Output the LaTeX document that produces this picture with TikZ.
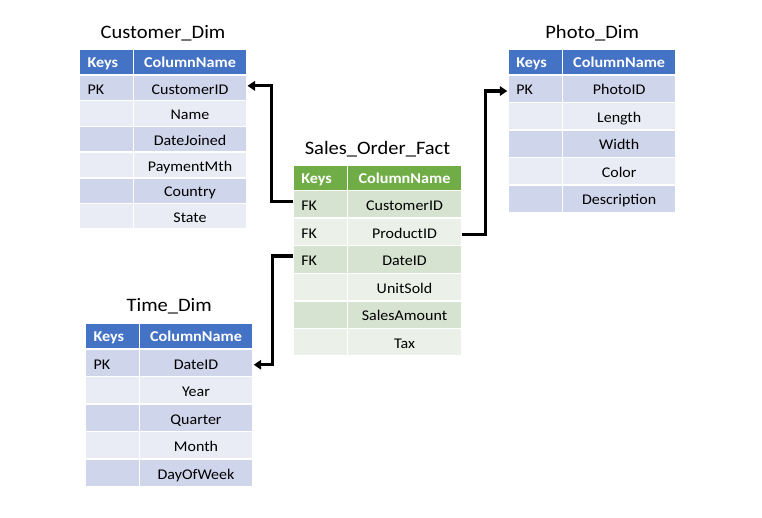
\documentclass[tikz,border=0pt]{standalone}
\usepackage{fontspec}
\setmainfont{Carlito}[FakeStretch=1.08]
\usetikzlibrary{arrows.meta}
\definecolor{blueH}{HTML}{4472C4}
\definecolor{blue1}{HTML}{CFD5EA}
\definecolor{blue0}{HTML}{E9EBF5}
\definecolor{greenH}{HTML}{70AD47}
\definecolor{green1}{HTML}{D6E3D0}
\definecolor{green0}{HTML}{EBF1E9}
\tikzset{
  cell/.style={draw=white, line width=1.5pt, inner sep=0pt, outer sep=0pt,
    anchor=north west, font=\fontsize{14.8}{16}\selectfont, text=black,
    text height=12.5pt, text depth=0pt},
  keycell/.style={cell, text width=38pt, align=left, inner xsep=8pt},
  headcell/.style={cell, text=white, font=\fontsize{15}{16}\selectfont\bfseries, text height=11.5pt},
  ttl/.style={anchor=base, inner sep=0pt, font=\fontsize{19}{21}\selectfont},
  conn/.style={draw=black, line width=3.3pt, -{Triangle[length=7.5pt,width=9.5pt]}, shorten >=1pt}
}
% #1 prefix, #2 x, #3 y, #4 w1, #5 w2, #6 header h, #7 row h, #8 scheme, #9 rows
\newcommand{\mktable}[9]{%
  \node[keycell, headcell, minimum width=#4pt, minimum height=#6pt, fill=#8H] (#1-h-k) at (#2,#3) {Keys};
  \node[headcell, minimum width=#5pt, minimum height=#6pt, fill=#8H] (#1-h-c) at (#2+#4,#3) {ColumnName};
  \foreach \k/\c [count=\i, evaluate=\i as \band using {int(mod(\i,2))}] in {#9}{
    \node[keycell, minimum width=#4pt, minimum height=#7pt, fill=#8\band] (#1-\i-k) at (#2,{#3+#6+(\i-1)*#7}) {\k};
    \node[cell, minimum width=#5pt, minimum height=#7pt, fill=#8\band] (#1-\i-c) at (#2+#4,{#3+#6+(\i-1)*#7}) {\c};
  }%
}
\begin{document}
\begin{tikzpicture}[x=1pt,y=-1pt]
\useasboundingbox (0,0) rectangle (762,518);
% Customer_Dim
\mktable{c}{79.5}{49}{54}{113}{26}{25.7}{blue}{PK/CustomerID, {}/Name, {}/DateJoined, {}/PaymentMth, {}/Country, {}/State}
\node[ttl] (ct) at (163,39) {Customer\_Dim};
% Sales_Order_Fact
\mktable{f}{293.3}{165}{54}{114.4}{25.5}{27.6}{green}{FK/CustomerID, FK/ProductID, FK/DateID, {}/UnitSold, {}/SalesAmount, {}/Tax}
\node[ttl] (ft) at (377.5,155) {Sales\_Order\_Fact};
% Photo_Dim
\mktable{p}{508.3}{49.3}{54}{113.7}{25.5}{27.5}{blue}{PK/PhotoID, {}/Length, {}/Width, {}/Color, {}/Description}
\node[ttl] (pt) at (592.2,39) {Photo\_Dim};
% Time_Dim
\mktable{t}{85.7}{323.3}{53.6}{113.4}{25.7}{27.5}{blue}{PK/DateID, {}/Year, {}/Quarter, {}/Month, {}/DayOfWeek}
\node[ttl] (tt) at (169.2,312) {Time\_Dim};
% connectors
\draw[conn] ([yshift=3pt]f-1-k.west) -- ++(-22,0) |- ([yshift=2pt]c-1-c.east);
\draw[conn] ([yshift=-2.5pt]f-2-c.east) -- ++(23.5,0) |- ([yshift=-2.5pt]p-1-k.west);
\draw[conn] ([yshift=3.5pt]f-3-k.west) -- ++(-21,0) |- ([yshift=-2pt]t-1-c.east);
\end{tikzpicture}
\end{document}
